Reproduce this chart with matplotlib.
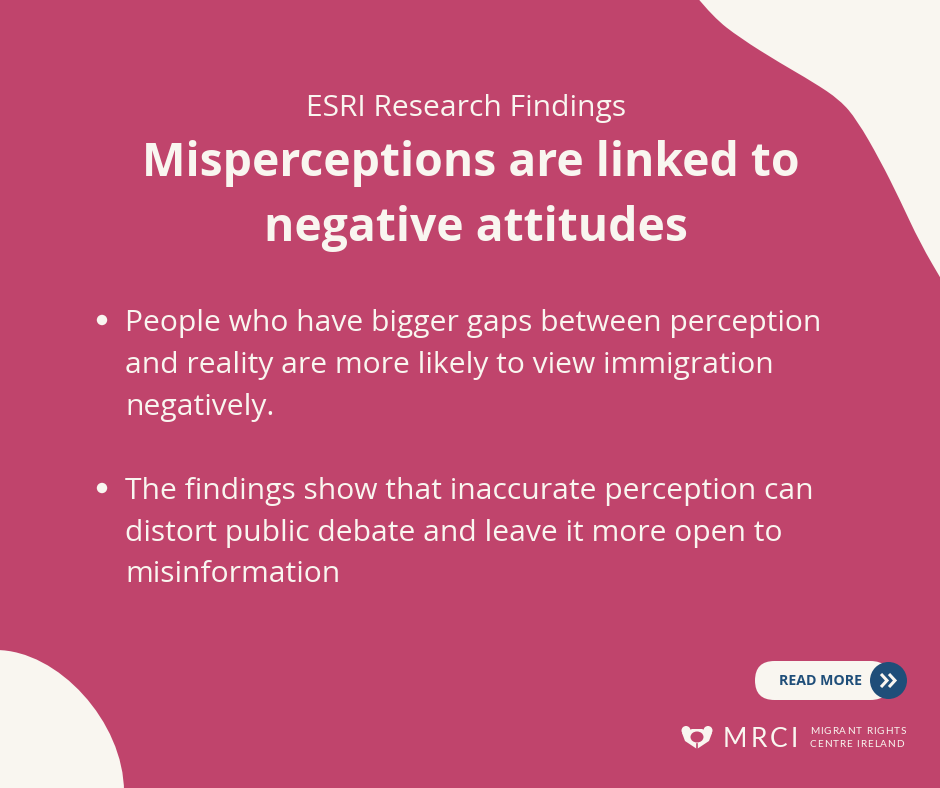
import matplotlib
matplotlib.use("Agg")
import matplotlib.pyplot as plt
from matplotlib.path import Path
from matplotlib.patches import PathPatch, Circle, FancyBboxPatch, Ellipse, Polygon

PINK = "#c0446c"
CREAM = "#f9f6f0"
NAVY = "#1f4e79"

subtitle = "ESRI Research Findings"
title_lines = ["Misperceptions are linked to", "negative attitudes"]
title_x = [470.5, 475.5]
title_y = [175.5, 240.5]
bullets = [
    ["People who have bigger gaps between perception",
     "and reality are more likely to view immigration",
     "negatively."],
    ["The findings show that inaccurate perception can",
     "distort public debate and leave it more open to",
     "misinformation"],
]
bullet_y = [[331, 373, 415], [498.5, 540.5, 582.5]]
dot_y = [320, 488]

# blob outlines in pixels
top_blob = [(696, -4), (713, 17), (740, 38), (780, 63), (813, 82), (840, 100),
            (857, 120), (880, 160), (900, 200), (920, 243), (944, 284)]
corner_blob = [(-4, 650), (58, 650), (124, 722), (124, 792)]


def smooth(points, end):
    # quadratic segments through the midpoints, then close round the corner
    verts = [points[0]]
    codes = [Path.MOVETO]
    for a, b in zip(points[1:-1], points[2:]):
        verts += [a, ((a[0] + b[0]) / 2, (a[1] + b[1]) / 2)]
        codes += [Path.CURVE3, Path.CURVE3]
    verts += [points[-1], end, points[0]]
    codes += [Path.LINETO, Path.LINETO, Path.CLOSEPOLY]
    return Path(verts, codes)


def spaced(x, y, text, tracking, **kw):
    # letter spacing by hand, matplotlib has no option for it
    rend = fig.canvas.get_renderer()
    for ch in text:
        if ch == " ":
            x += 3.2
            continue
        t = ax.text(x, y, ch, ha="left", va="baseline", **kw)
        x += t.get_window_extent(rend).width + tracking


fig = plt.figure(figsize=(9.4, 7.88), dpi=100, facecolor=PINK)
ax = fig.add_axes([0, 0, 1, 1])
ax.set_xlim(0, 940)
ax.set_ylim(788, 0)
ax.axis("off")

ax.add_patch(PathPatch(smooth(top_blob, (944, -4)), fc=CREAM, ec="none"))
corner_codes = [Path.MOVETO, Path.CURVE4, Path.CURVE4, Path.CURVE4, Path.LINETO, Path.CLOSEPOLY]
ax.add_patch(PathPatch(Path(corner_blob + [(-4, 792), corner_blob[0]], corner_codes),
                       fc=CREAM, ec="none"))

font = "Open Sans"
ax.text(466, 116, subtitle, color=CREAM, family=font, fontsize=21.6,
        ha="center", va="baseline")
for line, x, y in zip(title_lines, title_x, title_y):
    ax.text(x, y, line, color=CREAM, family=font, fontsize=33.3,
            weight="bold", ha="center", va="baseline")

for lines, ys, dy in zip(bullets, bullet_y, dot_y):
    ax.add_patch(Circle((102, dy), 5.2, fc=CREAM, ec="none"))
    for line, y in zip(lines, ys):
        ax.text(125, y, line, color=CREAM, family=font, fontsize=21.65,
                ha="left", va="baseline")

# read more button
ax.add_patch(FancyBboxPatch((755, 661), 135, 39, boxstyle="round,pad=0,rounding_size=19.5",
                            fc=CREAM, ec="none"))
ax.add_patch(Circle((888.5, 680.5), 18.5, fc=NAVY, ec="none"))
ax.text(779, 681, "READ MORE", color=NAVY, family="Open Sans", fontsize=10.2, weight="bold",
        ha="left", va="center")
for dx in (0, 8):
    ax.plot([881 + dx, 887 + dx, 881 + dx], [674, 680.5, 687], color=CREAM, lw=2.2,
            solid_capstyle="butt", solid_joinstyle="miter")

# logo, heart with a hole and two heads
ax.add_patch(Polygon([(682, 733), (692, 729), (702, 729), (712, 733), (709, 741),
                      (697, 749), (685, 741)], fc=CREAM, ec="none"))
ax.add_patch(Ellipse((697, 737), 13, 11, fc=PINK, ec="none"))
ax.add_patch(Circle((686, 730.5), 4.5, fc=CREAM, ec="none"))
ax.add_patch(Circle((708, 730.5), 4.5, fc=CREAM, ec="none"))
ax.plot([697, 697], [744, 749], color=PINK, lw=1.2)
spaced(723, 747, "MRCI", 3.0, color=CREAM, family="Lato", fontsize=19)
spaced(810, 734.5, "MIGRANT RIGHTS", 0.95, color=CREAM, family="Lato", fontsize=7.2)
spaced(810, 747, "CENTRE IRELAND", 0.9, color=CREAM, family="Lato", fontsize=7.2)

fig.savefig("out.png", dpi=100, facecolor=PINK)
